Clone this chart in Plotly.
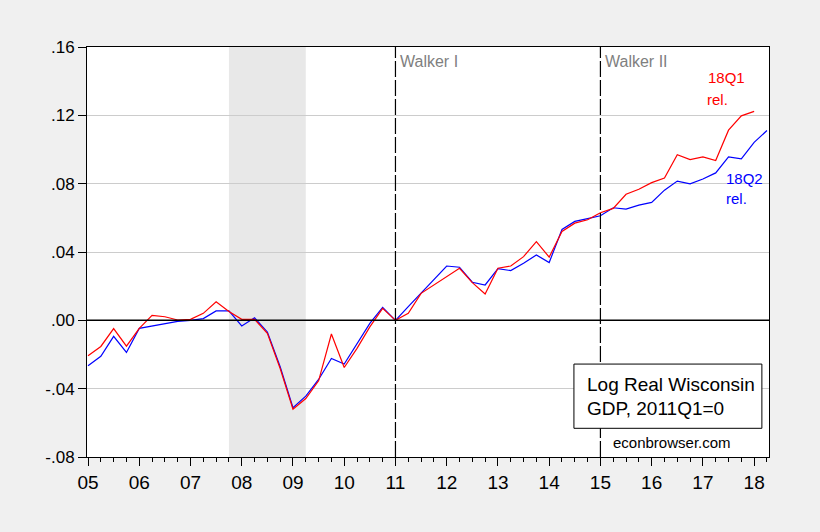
import plotly.graph_objects as go

# Quarterly periods 2005Q1 .. 2018Q2
years = list(range(2005, 2019))
quarters = [y + q / 4 for y in years for q in range(4)][:54]

# 18Q1 release (red), 2005Q1 .. 2018Q1
rel_18q1 = [-0.0207, -0.0153, -0.0048, -0.0151, -0.0047, 0.0029, 0.0021, 0.0002,
            0.0006, 0.0041, 0.0109, 0.0052, 0.0006, 0.0006, -0.0076, -0.0282,
            -0.0520, -0.0458, -0.0354, -0.0080, -0.0276, -0.0164, -0.0038, 0.0070,
            0.0000, 0.0041, 0.0158, 0.0207, 0.0260, 0.0305, 0.0221, 0.0154,
            0.0305, 0.0318, 0.0373, 0.0461, 0.0370, 0.0520, 0.0569, 0.0589,
            0.0630, 0.0655, 0.0738, 0.0767, 0.0806, 0.0833, 0.0970, 0.0941,
            0.0957, 0.0935, 0.1113, 0.1197, 0.1223]

# 18Q2 release (blue), 2005Q1 .. 2018Q2
rel_18q2 = [-0.0266, -0.0210, -0.0094, -0.0188, -0.0047, -0.0033, -0.0018, -0.0006,
            0.0000, 0.0010, 0.0055, 0.0055, -0.0033, 0.0015, -0.0068, -0.0272,
            -0.0511, -0.0444, -0.0346, -0.0223, -0.0256, -0.0135, -0.0018, 0.0076,
            0.0000, 0.0080, 0.0158, 0.0236, 0.0318, 0.0311, 0.0223, 0.0207,
            0.0303, 0.0291, 0.0334, 0.0383, 0.0338, 0.0532, 0.0579, 0.0595,
            0.0612, 0.0659, 0.0651, 0.0674, 0.0690, 0.0762, 0.0815, 0.0799,
            0.0827, 0.0863, 0.0957, 0.0945, 0.1042, 0.1111]

x_tick_vals = years
x_tick_text = ["%02d" % (y % 100) for y in years]
y_tick_vals = [-0.08, -0.04, 0.0, 0.04, 0.08, 0.12, 0.16]
y_tick_text = ["-.08", "-.04", ".00", ".04", ".08", ".12", ".16"]

recession = (2007.75, 2009.25)
walker_terms = [(2011.0, "Walker I"), (2015.0, "Walker II")]

FONT = "Liberation Sans, Arial, sans-serif"

fig = go.Figure()
fig.add_trace(go.Scatter(x=quarters[:len(rel_18q2)], y=rel_18q2, mode="lines",
                         line=dict(color="#0000ff", width=1.2), showlegend=False))
fig.add_trace(go.Scatter(x=quarters[:len(rel_18q1)], y=rel_18q1, mode="lines",
                         line=dict(color="#ff0000", width=1.2), showlegend=False))

# recession shading
fig.add_shape(type="rect", xref="x", yref="paper", x0=recession[0], x1=recession[1],
              y0=0, y1=1, fillcolor="#e8e8e8", line=dict(width=0), layer="below")
# zero line
fig.add_shape(type="line", xref="paper", yref="y", x0=0, x1=1, y0=0, y1=0,
              line=dict(color="black", width=1.5), layer="above")
# Walker lines and labels
for xv, label in walker_terms:
    fig.add_shape(type="line", xref="x", yref="paper", x0=xv, x1=xv, y0=0, y1=1,
                  line=dict(color="black", width=1.2, dash="16px,3px"))
    fig.add_annotation(x=xv, y=0.1513, xref="x", yref="y", text=label, showarrow=False,
                       xanchor="left", yanchor="middle", xshift=3,
                       font=dict(family=FONT, size=16, color="#7f7f7f"))

# series labels
for txt, xv, yv, col in [("18Q1", 2017.06, 0.1422, "#ff0000"), ("rel.", 2017.04, 0.1293, "#ff0000"),
                         ("18Q2", 2017.41, 0.0830, "#0000ff"), ("rel.", 2017.41, 0.0713, "#0000ff")]:
    fig.add_annotation(x=xv, y=yv, xref="x", yref="y", text=txt, showarrow=False,
                       xanchor="left", yanchor="middle",
                       font=dict(family=FONT, size=15, color=col))

# title box
fig.add_shape(type="rect", xref="x", yref="y", x0=2014.483, x1=2018.151, y0=-0.0632, y1=-0.0256,
              fillcolor="white", line=dict(color="black", width=1), layer="above")
fig.add_annotation(x=2014.70, y=-0.0374, xref="x", yref="y", text="Log Real Wisconsin",
                   showarrow=False, xanchor="left", yanchor="middle",
                   font=dict(family=FONT, size=19, color="black"))
fig.add_annotation(x=2014.70, y=-0.0515, xref="x", yref="y", text="GDP, 2011Q1=0",
                   showarrow=False, xanchor="left", yanchor="middle",
                   font=dict(family=FONT, size=19, color="black"))
fig.add_annotation(x=2015.21, y=-0.0714, xref="x", yref="y", text="econbrowser.com",
                   showarrow=False, xanchor="left", yanchor="middle",
                   font=dict(family=FONT, size=15, color="black"))

fig.update_layout(
    width=820, height=532,
    margin=dict(l=87, r=51, t=47, b=75),
    paper_bgcolor="#f0f0f0", plot_bgcolor="white",
    font=dict(family=FONT, size=16, color="black"),
    showlegend=False,
)
fig.update_xaxes(range=[2004.98, 2018.29], tickmode="array", tickvals=x_tick_vals,
                 ticktext=x_tick_text, ticks="outside", ticklen=8, tickcolor="black",
                 tickfont=dict(size=19), showgrid=False, zeroline=False,
                 showline=True, linecolor="black", linewidth=1, mirror=True,
                 minor=dict(tickmode="linear", tick0=2005, dtick=0.25, ticks="outside",
                            ticklen=4, tickcolor="black", showgrid=False))
fig.update_yaxes(range=[-0.08, 0.16], tickmode="array", tickvals=y_tick_vals,
                 ticktext=y_tick_text, ticks="outside", ticklen=8, tickcolor="black",
                 tickfont=dict(size=17), showgrid=True, gridcolor="#cccccc", gridwidth=1,
                 zeroline=False, showline=True, linecolor="black", linewidth=1, mirror=True)

fig.write_html("out.html")
